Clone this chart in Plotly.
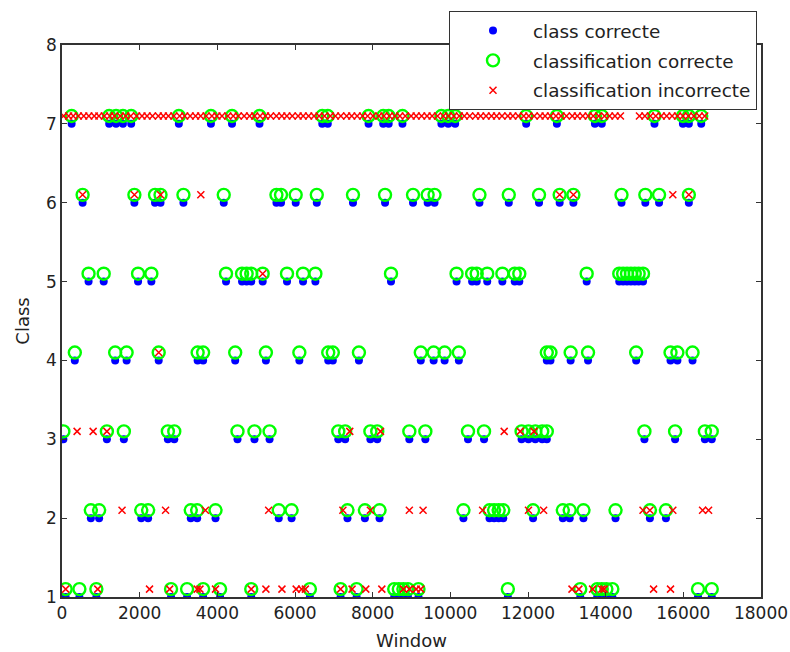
import plotly.graph_objects as go

# x positions (Window) of correctly classified windows, per class
correct_1 = [94, 448, 885, 2808, 3221, 3634, 4071, 4873, 6384, 7174, 7587, 8555, 8673, 8791, 8909, 9180,
             11481, 13346, 13782, 13900, 14018, 14172, 16378, 16732]
correct_2 = [743, 956, 2041, 2218, 3316, 3481, 3953, 5581, 5912, 7351, 7800, 8177, 10337, 11009, 11127,
             11245, 11363, 12130, 12897, 13074, 13428, 14254, 15139, 15552]
correct_3 = [35, 1156, 1593, 2726, 2891, 4519, 4956, 5345, 7115, 7292, 7941, 8118, 8944, 9357, 10455,
             10868, 11835, 12012, 12189, 12366, 12484, 14998, 15788, 16555, 16732]
correct_4 = [330, 1369, 1664, 2490, 3493, 3634, 4460, 5251, 6112, 6856, 6974, 7646, 9239, 9570, 9853,
             10219, 12484, 12579, 13098, 13546, 14785, 15670, 15847, 16237]
correct_5 = [684, 1074, 1959, 2301, 4224, 4637, 4755, 4873, 5168, 5794, 6207, 6525, 8472, 10160, 10561,
             10679, 10950, 11340, 11658, 11776, 13511, 14350, 14450, 14550, 14650, 14750, 14850, 14962]
correct_6 = [531, 1864, 2395, 2537, 3127, 4165, 5522, 5640, 6018, 6561, 7493, 8319, 9039, 9416, 9593,
             10750, 11505, 12284, 12815, 13169, 14408, 15021, 15375, 16142]
correct_7 = [248, 1215, 1392, 1569, 1782, 3009, 3835, 4378, 5086, 6702, 6844, 7894, 8272, 8413, 8767,
             9770, 9947, 10124, 11953, 12744, 13723, 13900, 15257, 15989, 16142, 16461]

# x positions of wrongly classified windows, placed at the predicted class
wrong_1 = [94, 920, 2254, 2773, 3481, 3552, 3953, 4873, 5251, 5664, 6030, 6171, 6266, 7174, 7469, 7823,
           8236, 8791, 8944, 9121, 9239, 13133, 13310, 13664, 13900, 13959, 15234, 15670]
wrong_2 = [1546, 2667, 3693, 5322, 7233, 7941, 8944, 9298, 10832, 12012, 12402, 14962, 15139, 15729,
           16496, 16650]
wrong_3 = [389, 802, 1156, 7410, 8201, 11387, 11800, 12154]
wrong_4 = [2490]
wrong_5 = [5168]
wrong_6 = [531, 1864, 2537, 3575, 12815, 13169, 15729, 16142]
wrong_7 = [40, 170, 290, 420, 560, 690, 830, 950, 1090, 1230, 1350, 1500, 1640, 1770, 1920, 2060, 2190,
           2330, 2480, 2610, 2740, 2880, 3030, 3160, 3300, 3440, 3570, 3710, 3860, 3990, 4120, 4270,
           4410, 4540, 4690, 4830, 4960, 5100, 5240, 5370, 5520, 5660, 5790, 5930, 6080, 6210, 6350,
           6490, 6620, 6760, 6910, 7040, 7180, 7330, 7460, 7600, 7740, 7870, 8010, 8160, 8290, 8430,
           8570, 8700, 8840, 8990, 9120, 9260, 9400, 9530, 9670, 9820, 9950, 10090, 10230, 10360,
           10500, 10650, 10780, 10920, 11060, 11190, 11330, 11480, 11610, 11750, 11890, 12020, 12160,
           12310, 12440, 12580, 12720, 12850, 12990, 13140, 13270, 13410, 13550, 13680, 13820, 13970,
           14100, 14240, 14380, 14870, 15010, 15150, 15290, 15430, 15570, 15710, 15850, 15990, 16130,
           16270, 16410, 16550]

classes = [1, 2, 3, 4, 5, 6, 7]
x_ticks = [0, 2000, 4000, 6000, 8000, 10000, 12000, 14000, 16000, 18000]
y_ticks = [1, 2, 3, 4, 5, 6, 7, 8]
correct = [correct_1, correct_2, correct_3, correct_4, correct_5, correct_6, correct_7]
wrong = [wrong_1, wrong_2, wrong_3, wrong_4, wrong_5, wrong_6, wrong_7]
offset = 0.1

x_true, y_true, x_ok, y_ok, x_bad, y_bad = [], [], [], [], [], []
for c, ok, bad in zip(classes, correct, wrong):
    x_true += ok
    y_true += [c] * len(ok)
    x_ok += ok
    y_ok += [c + offset] * len(ok)
    x_bad += bad
    y_bad += [c + offset] * len(bad)

fig = go.Figure()
fig.add_trace(go.Scatter(x=x_true, y=y_true, mode="markers", name="class correcte", legendgroup="a",
                         marker=dict(symbol="circle", size=8, color="#0000ff", line=dict(width=0))))
fig.add_trace(go.Scatter(x=x_ok, y=y_ok, mode="markers", name="classification correcte", legendgroup="b",
                         marker=dict(symbol="circle-open", size=12, color="#00ff00", line=dict(width=2.4))))
fig.add_trace(go.Scatter(x=x_bad, y=y_bad, mode="markers", name="classification incorrecte", legendgroup="c",
                         marker=dict(symbol="x-thin-open", size=7, color="#ff0000", line=dict(width=1.5))))

# page geometry (pixels)
W, H = 790, 652
ml, mr, mt, mb = 62, 20, 5, 55
pw, ph = W - ml - mr, H - mt - mb
ax_right, ax_top = 761, 45
leg_left, leg_top = 449, 11

font_fam = "DejaVu Sans"
axis_common = dict(showline=True, linecolor="#333333", linewidth=1.5, mirror="ticks", ticks="inside",
                   ticklen=5, tickcolor="#333333", showgrid=False, zeroline=False, automargin=False,
                   tickfont=dict(family=font_fam, size=17, color="#222222"))
fig.update_xaxes(range=[0, 18000], tickvals=x_ticks, ticktext=[str(v) for v in x_ticks],
                 domain=[0, (ax_right - ml) / pw],
                 title=dict(text="Window", font=dict(family=font_fam, size=18, color="#222222"), standoff=12),
                 **axis_common)
fig.update_yaxes(range=[1, 8], tickvals=y_ticks, ticktext=[str(v) for v in y_ticks],
                 domain=[0, (H - mb - ax_top) / ph],
                 title=dict(text="Class", font=dict(family=font_fam, size=18, color="#222222"), standoff=12),
                 **axis_common)
fig.update_layout(
    width=W, height=H,
    margin=dict(l=ml, r=mr, t=mt, b=mb),
    plot_bgcolor="white", paper_bgcolor="white",
    showlegend=True,
    legend=dict(x=(leg_left - ml) / pw, y=(H - mb - leg_top) / ph, xanchor="left", yanchor="top",
                bgcolor="white", bordercolor="#333333", borderwidth=1, tracegroupgap=3,
                indentation=3, itemwidth=70,
                font=dict(family=font_fam, size=18.4, color="#222222")),
)
fig.write_html("out.html")
